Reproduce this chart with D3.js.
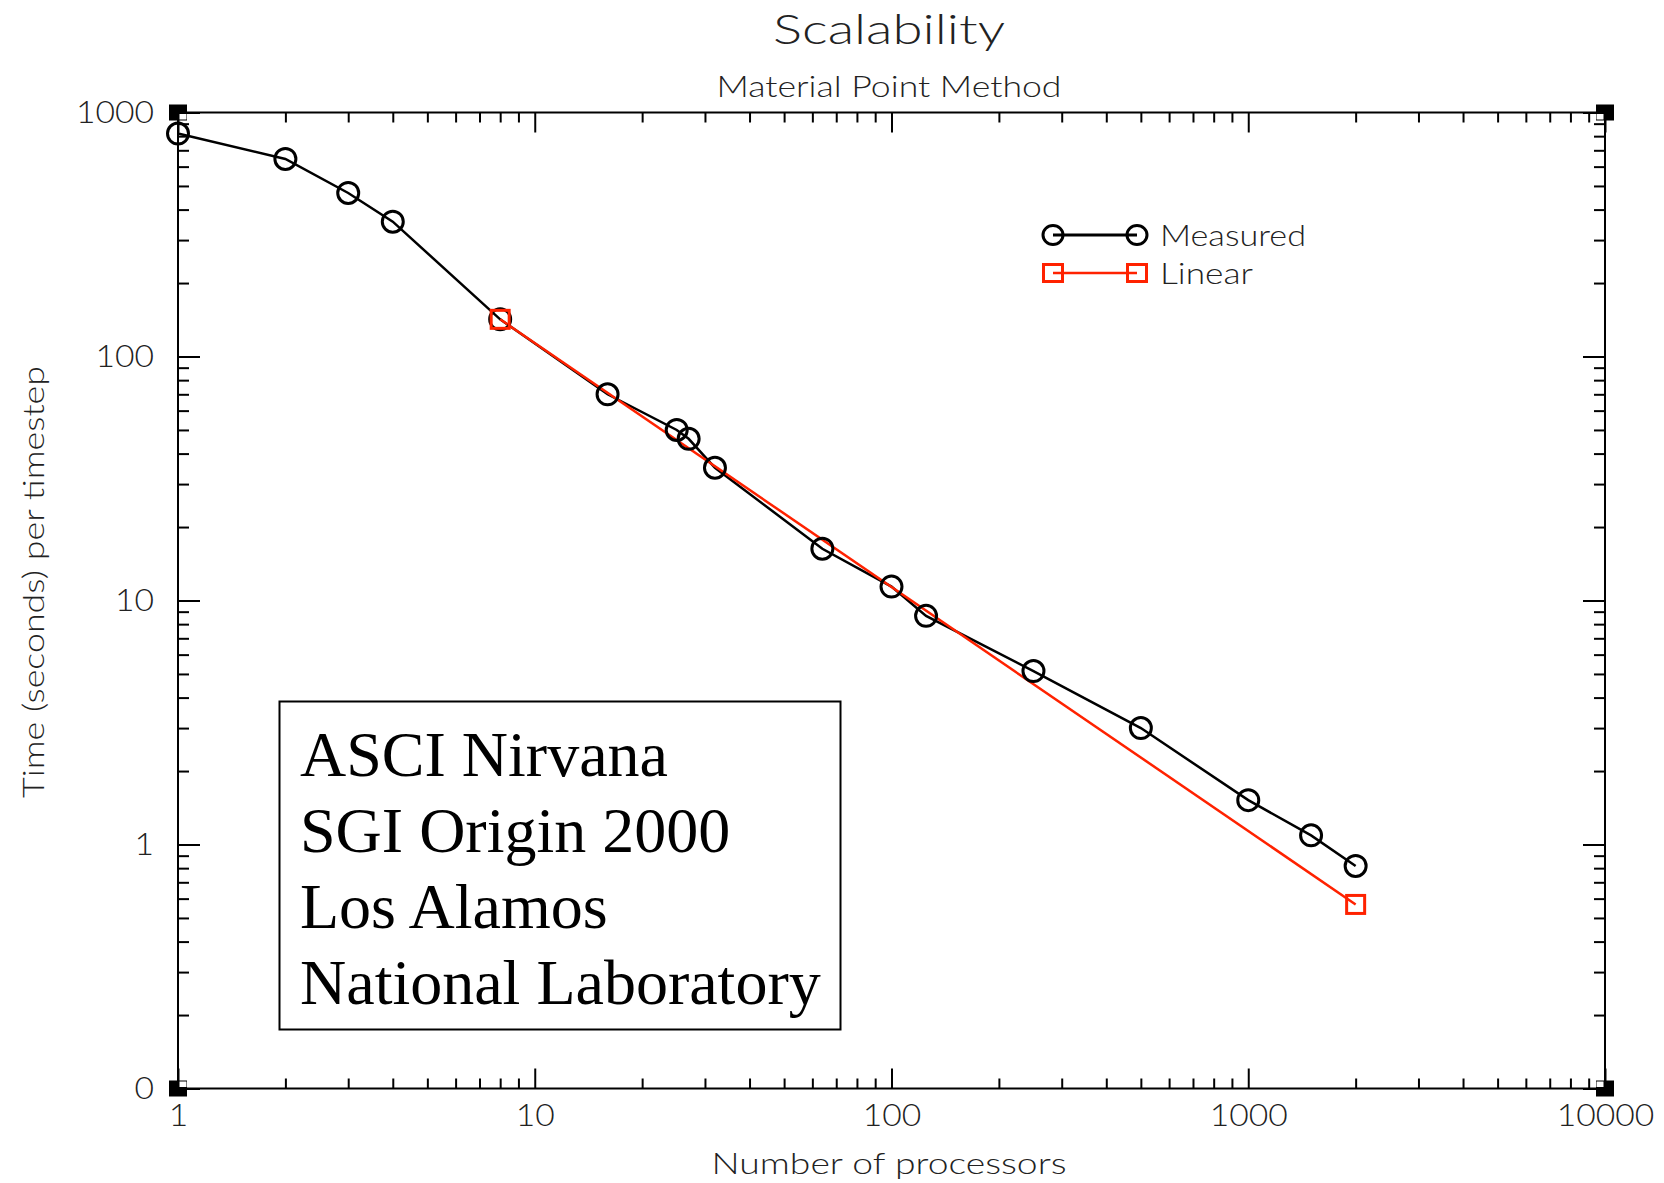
<!DOCTYPE html>
<html>
<head>
<meta charset="utf-8">
<script src="https://cdn.jsdelivr.net/npm/d3@7"></script>
<style>
  html, body { margin: 0; padding: 0; background: #fff; }
  svg { display: block; }
  .hershey { font-family: Lato, "DejaVu Sans", sans-serif; font-weight: 300; fill: #222; }
</style>
</head>
<body>
<script>
// Processor counts and measured time per timestep (seconds)
const processors = [1, 2, 3, 4, 8, 16, 25, 27, 32, 64, 100, 125, 250, 500, 1000, 1500, 2000];
const measuredTimes = [820, 645, 468, 357, 142, 70, 50, 46, 35, 16.3, 11.4, 8.65, 5.14, 3.0, 1.52, 1.09, 0.817];

// Ideal linear scaling, anchored at 8 processors
const linearProcessors = [8, 2000];
const linearTimes = [142, 0.568];

// Axis ticks and labels
const xTickValues = [1, 10, 100, 1000, 10000];
const xTickLabels = ["1", "10", "100", "1000", "10000"];
const yTickValues = [0.1, 1, 10, 100, 1000];
const yTickLabels = ["0", "1", "10", "100", "1000"];

const legendLabels = ["Measured", "Linear"];
const noteLines = ["ASCI Nirvana", "SGI Origin 2000", "Los Alamos", "National Laboratory"];

const W = 1664, H = 1183;
const plot = { left: 178, top: 112.5, right: 1605, bottom: 1088.5 };
const RED = "#ff2200";

const svg = d3.select("body").append("svg").attr("width", W).attr("height", H);

const x = d3.scaleLog().domain([1, 10000]).range([plot.left, plot.right]);
const y = d3.scaleLog().domain([0.1, 1000]).range([plot.bottom, plot.top]);

// minor tick positions: 2..9 within each decade
function minorTicks(lo, hi) {
  const out = [];
  for (let d = lo; d < hi; d *= 10)
    for (let k = 2; k <= 9; k++) out.push(d * k);
  return out;
}
const xMinor = minorTicks(1, 10000);
const yMinor = minorTicks(0.1, 1000);

const axesG = svg.append("g").attr("stroke-width", 2);

function styleAxis(g) {
  g.select(".domain").remove();
  g.selectAll(".tick line").attr("stroke", "#000").attr("stroke-width", 2);
}

// bottom axis
axesG.append("g").attr("transform", `translate(0,${plot.bottom})`)
  .call(d3.axisBottom(x).tickValues(xMinor).tickSize(-10).tickFormat(""))
  .call(styleAxis);
const xBottom = axesG.append("g").attr("transform", `translate(0,${plot.bottom})`)
  .call(d3.axisBottom(x).tickValues(xTickValues).tickSize(-20).tickPadding(15)
    .tickFormat((d, i) => xTickLabels[i]))
  .call(styleAxis);
// top axis
axesG.append("g").attr("transform", `translate(0,${plot.top})`)
  .call(d3.axisTop(x).tickValues(xMinor).tickSize(-10).tickFormat(""))
  .call(styleAxis);
axesG.append("g").attr("transform", `translate(0,${plot.top})`)
  .call(d3.axisTop(x).tickValues(xTickValues).tickSize(-20).tickFormat(""))
  .call(styleAxis);
// left axis
axesG.append("g").attr("transform", `translate(${plot.left},0)`)
  .call(d3.axisLeft(y).tickValues(yMinor).tickSize(-11).tickFormat(""))
  .call(styleAxis);
const yLeft = axesG.append("g").attr("transform", `translate(${plot.left},0)`)
  .call(d3.axisLeft(y).tickValues(yTickValues).tickSize(-22).tickPadding(24)
    .tickFormat((d, i) => yTickLabels[i]))
  .call(styleAxis);
// right axis
axesG.append("g").attr("transform", `translate(${plot.right},0)`)
  .call(d3.axisRight(y).tickValues(yMinor).tickSize(-11).tickFormat(""))
  .call(styleAxis);
axesG.append("g").attr("transform", `translate(${plot.right},0)`)
  .call(d3.axisRight(y).tickValues(yTickValues).tickSize(-22).tickFormat(""))
  .call(styleAxis);

[xBottom, yLeft].forEach(g => {
  g.selectAll(".tick text")
    .attr("class", "hershey")
    .style("font-size", "32px")
    .attr("fill", "#222")
    .attr("textLength", function () { return this.textContent.length * 19.5; })
    .attr("lengthAdjust", "spacingAndGlyphs");
});

// frame
svg.append("rect")
  .attr("x", plot.left).attr("y", plot.top)
  .attr("width", plot.right - plot.left).attr("height", plot.bottom - plot.top)
  .attr("fill", "none").attr("stroke", "#000").attr("stroke-width", 2);

// corner markers
[[plot.left, plot.top, 1, 1], [plot.right, plot.top, -1, 1],
 [plot.left, plot.bottom, 1, -1], [plot.right, plot.bottom, -1, -1]].forEach(([cx, cy, sx, sy]) => {
  svg.append("rect").attr("x", cx - 9).attr("y", cy - 8).attr("width", 18).attr("height", 16).attr("fill", "#000");
  svg.append("rect")
    .attr("x", sx > 0 ? cx + 1.5 : cx - 8.5)
    .attr("y", sy > 0 ? cy + 1.5 : cy - 7)
    .attr("width", 7).attr("height", 5.5).attr("fill", "#fff");
});

// titles
svg.append("text").attr("class", "hershey")
  .attr("x", 889).attr("y", 44).attr("text-anchor", "middle")
  .style("font-size", "42px")
  .attr("textLength", 232).attr("lengthAdjust", "spacingAndGlyphs")
  .text("Scalability");
svg.append("text").attr("class", "hershey")
  .attr("x", 889).attr("y", 97).attr("text-anchor", "middle")
  .style("font-size", "29px")
  .attr("textLength", 345).attr("lengthAdjust", "spacingAndGlyphs")
  .text("Material Point Method");
svg.append("text").attr("class", "hershey")
  .attr("x", 889).attr("y", 1174).attr("text-anchor", "middle")
  .style("font-size", "29px")
  .attr("textLength", 355).attr("lengthAdjust", "spacingAndGlyphs")
  .text("Number of processors");
svg.append("text").attr("class", "hershey")
  .attr("transform", "translate(44,582) rotate(-90)").attr("text-anchor", "middle")
  .style("font-size", "29px")
  .attr("textLength", 432).attr("lengthAdjust", "spacingAndGlyphs")
  .text("Time (seconds) per timestep");

// series
const line = d3.line().x(d => x(d[0])).y(d => y(d[1]));
const measured = d3.zip(processors, measuredTimes);
const linear = d3.zip(linearProcessors, linearTimes);

svg.append("path").datum(measured).attr("d", line)
  .attr("fill", "none").attr("stroke", "#000").attr("stroke-width", 2.5);
svg.append("path").datum(linear).attr("d", line)
  .attr("fill", "none").attr("stroke", RED).attr("stroke-width", 2.5);

svg.append("g").selectAll("circle").data(measured).join("circle")
  .attr("cx", d => x(d[0])).attr("cy", d => y(d[1])).attr("r", 10.5)
  .attr("fill", "none").attr("stroke", "#000").attr("stroke-width", 3);
svg.append("g").selectAll("rect").data(linear).join("rect")
  .attr("x", d => x(d[0]) - 9).attr("y", d => y(d[1]) - 9)
  .attr("width", 18).attr("height", 18)
  .attr("fill", "none").attr("stroke", RED).attr("stroke-width", 3);

// legend
const lg = svg.append("g");
const lx0 = 1053, lx1 = 1137, ly = [235, 273];
lg.append("line").attr("x1", lx0).attr("x2", lx1).attr("y1", ly[0]).attr("y2", ly[0])
  .attr("stroke", "#000").attr("stroke-width", 3);
[lx0, lx1].forEach(cx => lg.append("ellipse").attr("cx", cx).attr("cy", ly[0])
  .attr("rx", 10).attr("ry", 9.5).attr("fill", "none").attr("stroke", "#000").attr("stroke-width", 3));
lg.append("line").attr("x1", lx0).attr("x2", lx1).attr("y1", ly[1]).attr("y2", ly[1])
  .attr("stroke", RED).attr("stroke-width", 2.5);
[lx0, lx1].forEach(cx => lg.append("rect").attr("x", cx - 9.5).attr("y", ly[1] - 8.5)
  .attr("width", 19).attr("height", 17).attr("fill", "none").attr("stroke", RED).attr("stroke-width", 3));
lg.selectAll("text.lbl").data(legendLabels).join("text")
  .attr("class", "hershey")
  .attr("x", 1160).attr("y", (d, i) => ly[i] + 11)
  .style("font-size", "30px")
  .attr("textLength", (d, i) => i === 0 ? 146 : 93)
  .attr("lengthAdjust", "spacingAndGlyphs")
  .text(d => d);

// annotation box
const box = { x: 279.5, y: 701.5, w: 561, h: 328 };
svg.append("rect").attr("x", box.x).attr("y", box.y).attr("width", box.w).attr("height", box.h)
  .attr("fill", "#fff").attr("stroke", "#000").attr("stroke-width", 2);
svg.append("g").selectAll("text").data(noteLines).join("text")
  .attr("x", 300).attr("y", (d, i) => 776 + i * 76)
  .style("font-family", "'Liberation Serif', 'Times New Roman', serif")
  .style("font-size", "64px")
  .attr("fill", "#000")
  .text(d => d);
</script>
</body>
</html>
